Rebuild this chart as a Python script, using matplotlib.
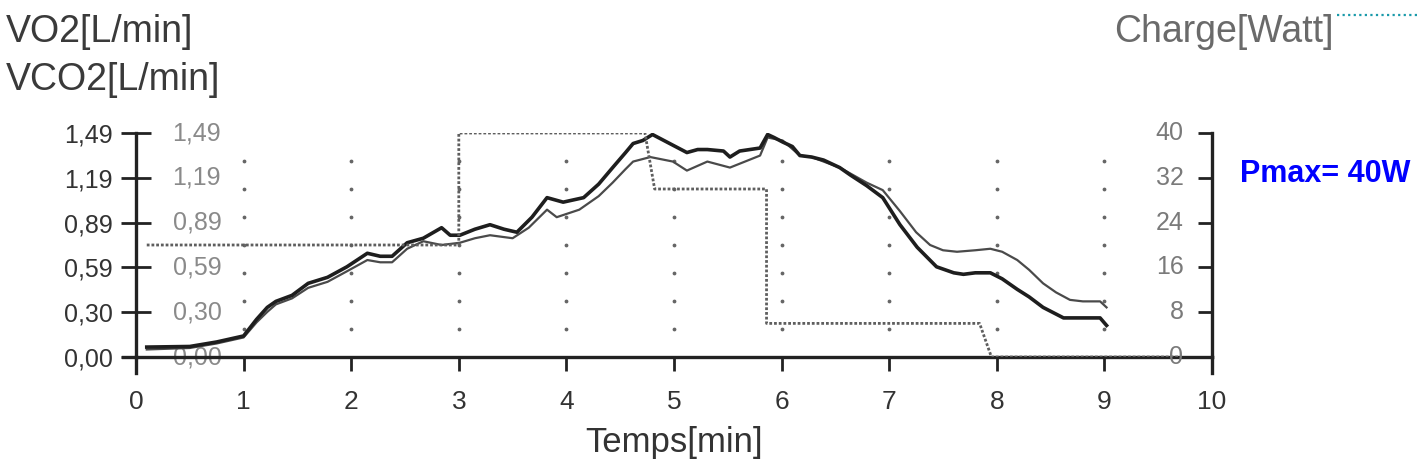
import matplotlib.pyplot as plt
import numpy as np

plt.rcParams['font.family'] = ['Liberation Sans', 'DejaVu Sans']

# --- data ---
t_vo2 = [0.1, 0.5, 0.75, 1.0, 1.12, 1.22, 1.3, 1.45, 1.6, 1.78, 1.96, 2.15, 2.27, 2.38,
         2.52, 2.67, 2.84, 2.92, 3.01, 3.15, 3.29, 3.42, 3.54, 3.68, 3.82, 3.97, 4.16,
         4.3, 4.43, 4.55, 4.62, 4.71, 4.8, 4.96, 5.12, 5.22, 5.31, 5.46, 5.52, 5.61,
         5.8, 5.87, 5.93, 6.01, 6.1, 6.17, 6.28, 6.39, 6.54, 6.64, 6.79, 6.94, 7.1,
         7.26, 7.44, 7.6, 7.69, 7.8, 7.94, 8.05, 8.19, 8.3, 8.43, 8.62, 8.8, 8.96, 9.02]
vo2 = [0.066, 0.07, 0.10, 0.14, 0.25, 0.33, 0.37, 0.41, 0.49, 0.53, 0.60, 0.69, 0.67, 0.67,
       0.76, 0.79, 0.86, 0.81, 0.81, 0.85, 0.88, 0.85, 0.83, 0.93, 1.06, 1.03, 1.06,
       1.15, 1.26, 1.36, 1.42, 1.44, 1.48, 1.42, 1.36, 1.38, 1.38, 1.37, 1.33, 1.37,
       1.39, 1.48, 1.46, 1.43, 1.40, 1.34, 1.33, 1.31, 1.26, 1.21, 1.14, 1.06, 0.88,
       0.73, 0.60, 0.56, 0.55, 0.56, 0.56, 0.52, 0.45, 0.40, 0.33, 0.26, 0.26, 0.26, 0.21]

t_vco2 = [0.1, 0.5, 0.75, 1.0, 1.12, 1.22, 1.3, 1.45, 1.6, 1.78, 1.96, 2.15, 2.27, 2.38,
          2.52, 2.67, 2.84, 3.01, 3.15, 3.29, 3.5, 3.65, 3.82, 3.91, 4.12, 4.3, 4.43,
          4.55, 4.62, 4.78, 4.99, 5.12, 5.31, 5.52, 5.73, 5.8, 5.87, 6.01, 6.17, 6.28,
          6.39, 6.54, 6.64, 6.79, 6.94, 7.1, 7.25, 7.38, 7.5, 7.63, 7.8, 7.94, 8.05,
          8.19, 8.3, 8.43, 8.55, 8.68, 8.8, 8.96, 9.02]
vco2 = [0.05, 0.06, 0.09, 0.13, 0.23, 0.30, 0.35, 0.39, 0.46, 0.50, 0.57, 0.645, 0.63, 0.63,
        0.72, 0.77, 0.745, 0.76, 0.79, 0.81, 0.79, 0.86, 0.98, 0.93, 0.98, 1.07, 1.16,
        1.25, 1.30, 1.33, 1.30, 1.24, 1.30, 1.26, 1.32, 1.34, 1.46, 1.44, 1.34, 1.33,
        1.30, 1.26, 1.22, 1.16, 1.11, 0.97, 0.83, 0.745, 0.71, 0.70, 0.71, 0.72, 0.70,
        0.645, 0.58, 0.49, 0.43, 0.38, 0.37, 0.37, 0.33]

t_load = [0.1, 3.0, 3.0, 4.73, 4.82, 5.86, 5.86, 7.84, 7.95, 9.7]
load = [20, 20, 40, 40, 30, 30, 6, 6, 0, 0]

x_ticks = list(range(11))
left_ticks = [0.0, 0.298, 0.596, 0.894, 1.192, 1.49]
left_labels = ["0,00", "0,30", "0,59", "0,89", "1,19", "1,49"]
right_ticks = [0, 8, 16, 24, 32, 40]
right_labels = ["0", "8", "16", "24", "32", "40"]

W, H = 1420, 476


def fx(x):
    return x / W


def fy(y):
    return 1 - y / H


fig = plt.figure(figsize=(W / 100, H / 100), dpi=100)
ax = fig.add_axes([fx(136), fy(357), (1212 - 136) / W, (357 - 133) / H])

ax.set_xlim(0, 10)
ax.set_ylim(0, 1.49)

# dotted grid (dots at each minute and each 1/8 of height)
gx, gy = np.meshgrid(np.arange(1, 10), np.linspace(0, 1.49, 9)[1:-1])
ax.scatter(gx.ravel(), gy.ravel(), s=3, color="#666666", zorder=1)

ax.plot(t_vco2, vco2, color="#4a4a4a", lw=1.6, zorder=3)
ax.plot(t_vo2, vo2, color="#1e1e1e", lw=2.6, zorder=4)

ax.set_xticks(x_ticks)
ax.set_xticklabels([str(v) for v in x_ticks])
ax.set_yticks(left_ticks)
ax.set_yticklabels(left_labels)
ax.tick_params(axis="x", direction="out", length=10, width=2, labelsize=19,
               pad=14, color="#222222", labelcolor="#333333")
ax.tick_params(axis="y", direction="inout", length=21, width=2, labelsize=18,
               pad=6, color="#222222", labelcolor="#333333")

for s in ["top", "right"]:
    ax.spines[s].set_visible(False)
for s in ["left", "bottom"]:
    ax.spines[s].set_linewidth(2.4)
    ax.spines[s].set_color("#222222")

# small extensions of the axis lines past the origin
ax.plot([0, 0], [-0.07, 0], transform=ax.transAxes, color="#222222", lw=2.4, clip_on=False)
ax.plot([-0.012, 0], [0, 0], transform=ax.transAxes, color="#222222", lw=2.4, clip_on=False)

# VCO2 scale written inside the plot
for v, lab in zip(left_ticks, left_labels):
    ax.text(0.034, v, lab, transform=ax.get_yaxis_transform(), ha="left", va="center",
            fontsize=18, color="#8a8a8a", zorder=2)

# load (Watt) on right axis
ax2 = ax.twinx()
ax2.set_ylim(0, 40)
ax2.plot(t_load, load, color="#5e5e5e", lw=2.0, ls=(0, (1, 0.7)), zorder=2)
ax2.set_yticks(right_ticks)
ax2.tick_params(axis="y", direction="in", length=10, width=2, color="#222222",
                labelright=False)
for s in ["top", "left", "bottom"]:
    ax2.spines[s].set_visible(False)
ax2.spines["right"].set_linewidth(2.4)
ax2.spines["right"].set_color("#222222")
ax2.plot([1, 1], [-0.07, 0], transform=ax2.transAxes, color="#222222", lw=2.4, clip_on=False)
for v, lab in zip(right_ticks, right_labels):
    ax2.text(0.9735, v, lab, transform=ax2.get_yaxis_transform(), ha="right", va="center",
             fontsize=18, color="#7a7a7a")

# titles and labels
fig.text(fx(6), fy(42), "VO2[L/min]", fontsize=27, color="#3a3a3a", va="baseline")
fig.text(fx(6), fy(90), "VCO2[L/min]", fontsize=27, color="#3a3a3a", va="baseline")
fig.text(fx(1334), fy(42), "Charge[Watt]", fontsize=27, color="#6a6a6a", va="baseline",
         ha="right")
fig.text(fx(674), fy(452), "Temps[min]", fontsize=25, color="#333333", va="baseline",
         ha="center")
fig.text(fx(1240), fy(182), "Pmax= 40W", fontsize=22, color="#0000ff", fontweight="bold",
         va="baseline")
fig.add_artist(plt.Line2D([fx(1337), 1.0], [fy(15), fy(15)], color="#1a9aaa", lw=1.6,
                          ls=(0, (1, 1.5))))

fig.savefig("out.png", dpi=100)
